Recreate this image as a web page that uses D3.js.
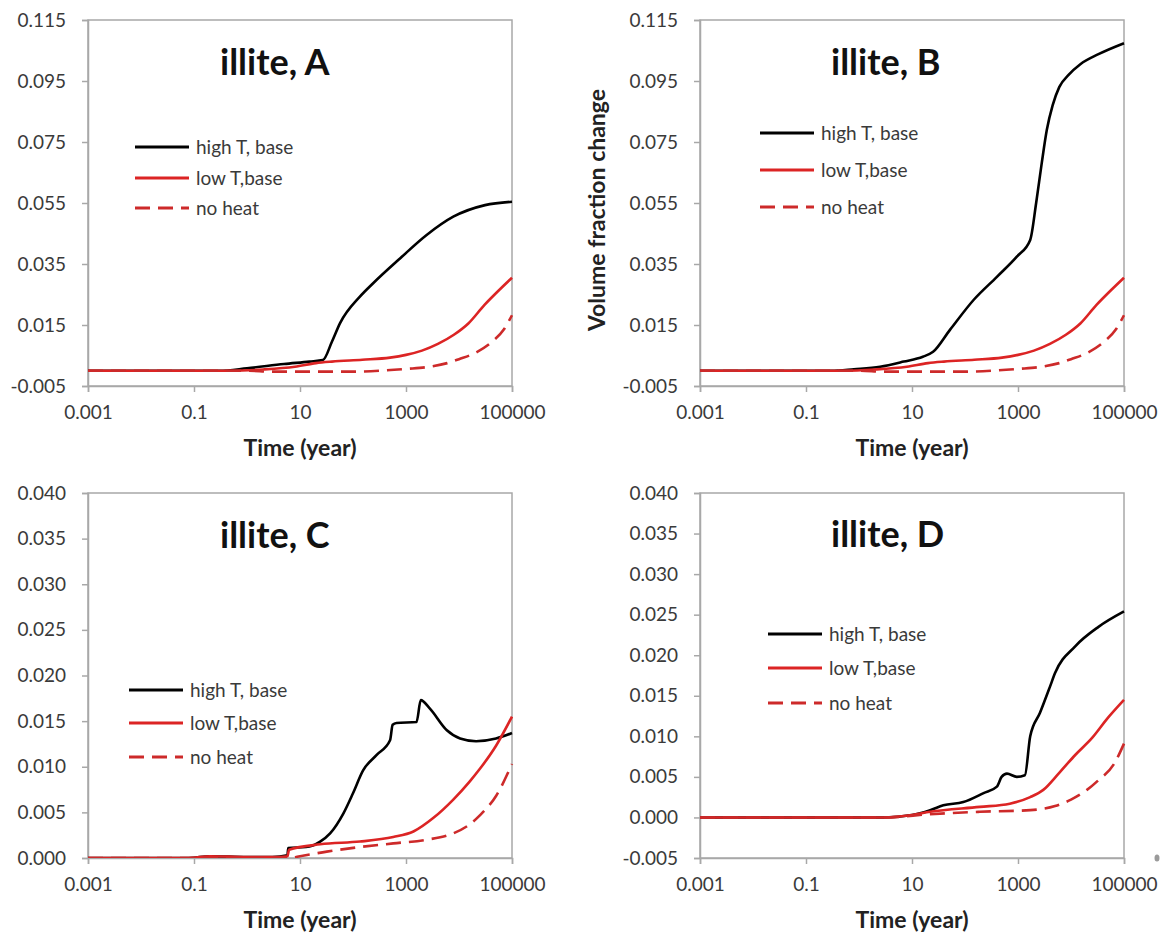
<!DOCTYPE html>
<html>
<head>
<meta charset="utf-8">
<script src="https://cdn.jsdelivr.net/npm/d3@7"></script>
<style>
  body { margin: 0; background: #fff; }
  text { font-family: Lato, "Open Sans", sans-serif; }
</style>
</head>
<body>
<div id="chart"></div>
<script>
// tick values
var xTicks = [0.001, 0.1, 10, 1000, 100000];
var yTicksAB = [-0.005, 0.015, 0.035, 0.055, 0.075, 0.095, 0.115];
var yTicksC = [0, 0.005, 0.01, 0.015, 0.02, 0.025, 0.03, 0.035, 0.04];
var yTicksD = [-0.005, 0, 0.005, 0.01, 0.015, 0.02, 0.025, 0.03, 0.035, 0.04];
var seriesNames = ["high T, base", "low T,base", "no heat"];

// [time (year), volume fraction change]
var highT_A = [[0.001, 0], [0.3, 0], [1, 0.0008], [5, 0.0022], [15, 0.003], [27, 0.0035], [40, 0.0095],
  [57, 0.0156], [135, 0.0243], [240, 0.0287], [780, 0.0369], [2450, 0.0445], [7800, 0.0505],
  [31000, 0.0543], [100000, 0.0554]];
var highT_B = [[0.001, 0], [0.3, 0], [0.8, 0.0005], [2.5, 0.0013], [7, 0.003], [16, 0.0046], [25, 0.0062],
  [52, 0.0134], [145, 0.0232], [400, 0.0308], [950, 0.0374], [1700, 0.0429], [2200, 0.055], [2800, 0.068],
  [3500, 0.079], [4500, 0.087], [6000, 0.093], [9000, 0.097], [15000, 0.1005], [33000, 0.1038],
  [100000, 0.1074]];
var lowT_AB = [[0.001, 0], [0.5, 0], [2, 0.0004], [8, 0.0013], [20, 0.0025], [40, 0.003], [150, 0.0036],
  [500, 0.0043], [1000, 0.0052], [2000, 0.0066], [4000, 0.0088], [8000, 0.0118], [15000, 0.0155],
  [30000, 0.0215], [60000, 0.0268], [100000, 0.0305]];
var noHeat_AB = [[0.001, 0], [1, 0], [3, -0.0003], [100, -0.0003], [400, 0.0001], [1000, 0.0006],
  [3000, 0.0014], [6000, 0.0025], [10000, 0.0038], [20000, 0.0058], [40000, 0.0092], [70000, 0.0135],
  [100000, 0.0182]];

var highT_C = [[0.001, 0], [0.08, 0], [0.2, 0.0002], [1, 0.0001], [3, 0.0001], [5.8, 0.0003], [6, 0.0011],
  [13, 0.0012], [24, 0.0018], [37, 0.0027], [66, 0.0049], [100, 0.0071], [155, 0.0096], [280, 0.0113],
  [500, 0.0129], [560, 0.0146], [660, 0.0148], [1580, 0.0149], [1900, 0.0173], [2800, 0.0164],
  [5900, 0.014], [10500, 0.0131], [21000, 0.0128], [50000, 0.0131], [100000, 0.0137]];
var lowT_C = [[0.001, 0], [0.08, 0], [0.2, 0.0002], [1, 0.0001], [3, 0.0001], [5.8, 0.0002], [6.2, 0.0009],
  [24, 0.0015], [135, 0.0018], [575, 0.0023], [1380, 0.0029], [3300, 0.0044], [7800, 0.0064],
  [16000, 0.0084], [25000, 0.0098], [50000, 0.0123], [100000, 0.0155]];
var noHeat_C = [[0.001, 0], [6, 0], [10, 0.0002], [32, 0.0007], [135, 0.0012], [575, 0.0016], [2450, 0.002],
  [7800, 0.0027], [16000, 0.0037], [25000, 0.0047], [50000, 0.0068], [100000, 0.0103]];

var highT_D = [[0.001, 0], [3, 0], [10, 0.0003], [22, 0.0009], [39, 0.0015], [93, 0.0019], [224, 0.003],
  [400, 0.0038], [490, 0.005], [620, 0.0054], [950, 0.005], [1350, 0.0052], [1700, 0.01], [2600, 0.0129],
  [4000, 0.0161], [5000, 0.0178], [12000, 0.0211], [33000, 0.0235], [100000, 0.0254]];
var lowT_D = [[0.001, 0], [3, 0], [10, 0.0003], [22, 0.0007], [190, 0.0013], [700, 0.0017], [1700, 0.0025],
  [3000, 0.0034], [6000, 0.0055], [12000, 0.0077], [25000, 0.0098], [50000, 0.0123], [100000, 0.0145]];
var noHeat_D = [[0.001, 0], [3, 0], [22, 0.0004], [190, 0.0007], [1700, 0.0009], [5000, 0.0014],
  [10000, 0.0022], [20000, 0.0034], [33000, 0.0046], [65000, 0.0066], [100000, 0.0091]];

var width = 1160, height = 937;
var black = "#000", red = "#dc2424", redDash = "#cd2a2a";

var panels = [
  { title: "illite, A", x0: 88, x1: 512, y0: 20, y1: 386, yDomain: [-0.005, 0.115], yTicks: yTicksAB,
    data: [highT_A, lowT_AB, noHeat_AB], tx: 220, ty: 75, lx: 135, ly: [147, 178, 208] },
  { title: "illite, B", x0: 700, x1: 1124, y0: 20, y1: 386, yDomain: [-0.005, 0.115], yTicks: yTicksAB,
    data: [highT_B, lowT_AB, noHeat_AB], tx: 831, ty: 75, lx: 760, ly: [133, 170, 207], yTitle: true },
  { title: "illite, C", x0: 88, x1: 512, y0: 493, y1: 858, yDomain: [0, 0.04], yTicks: yTicksC,
    data: [highT_C, lowT_C, noHeat_C], tx: 220, ty: 548, lx: 129, ly: [690, 723, 757] },
  { title: "illite, D", x0: 700, x1: 1124, y0: 493, y1: 858, yDomain: [-0.005, 0.04], yTicks: yTicksD,
    data: [highT_D, lowT_D, noHeat_D], tx: 831, ty: 547, lx: 768, ly: [634, 668, 703] }
];

var styles = [
  { color: black, dash: null },
  { color: red, dash: null },
  { color: redDash, dash: "15,8" }
];

var svg = d3.select("#chart").append("svg")
    .attr("width", width)
    .attr("height", height);

svg.append("rect").attr("width", width).attr("height", height).attr("fill", "#fff");

panels.forEach(function(p, pi) {
    var x = d3.scaleLog().domain([0.001, 100000]).range([p.x0, p.x1]);
    var y = d3.scaleLinear().domain(p.yDomain).range([p.y1, p.y0]);
    var g = svg.append("g");

    // plot border
    g.append("rect")
        .attr("x", p.x0).attr("y", p.y0)
        .attr("width", p.x1 - p.x0).attr("height", p.y1 - p.y0)
        .attr("fill", "none").attr("stroke", "#a8a8a8").attr("stroke-width", 1.5);

    var yAxis = g.append("g")
        .attr("transform", "translate(" + p.x0 + ",0)")
        .call(d3.axisLeft(y).tickValues(p.yTicks).tickFormat(d3.format(".3f")).tickSize(6).tickPadding(16));
    var xAxis = g.append("g")
        .attr("transform", "translate(0," + p.y1 + ")")
        .call(d3.axisBottom(x).tickValues(xTicks).tickFormat(function(d) { return String(d); }).tickSize(6).tickPadding(14));
    [xAxis, yAxis].forEach(function(a) {
        a.select(".domain").attr("stroke", "#a8a8a8").attr("stroke-width", 1.5);
        a.selectAll(".tick line").attr("stroke", "#a8a8a8").attr("stroke-width", 1.5);
        a.selectAll(".tick text").attr("fill", "#3a3a3a").style("font-size", "19px");
    });
    yAxis.selectAll(".tick text").text(function(d) { return d3.format(".3f")(d).replace("−", "-"); });

    var clipId = "clip" + pi;
    g.append("clipPath").attr("id", clipId).append("rect")
        .attr("x", p.x0).attr("y", p.y0 - 2)
        .attr("width", p.x1 - p.x0 + 2).attr("height", p.y1 - p.y0 + 2);

    var line = d3.line()
        .x(function(d) { return x(d[0]); })
        .y(function(d) { return y(d[1]); })
        .curve(d3.curveMonotoneX);

    p.data.forEach(function(s, i) {
        g.append("path")
            .datum(s)
            .attr("clip-path", "url(#" + clipId + ")")
            .attr("d", line)
            .attr("fill", "none")
            .attr("stroke", styles[i].color)
            .attr("stroke-width", 2.6)
            .attr("stroke-dasharray", styles[i].dash);
    });

    // title
    g.append("text")
        .attr("x", p.tx).attr("y", p.ty)
        .style("font-size", "36px").style("font-weight", "bold")
        .attr("fill", "#111")
        .text(p.title);

    // legend
    seriesNames.forEach(function(name, i) {
        var ly = p.ly[i];
        g.append("line")
            .attr("x1", p.lx).attr("x2", p.lx + 54)
            .attr("y1", ly).attr("y2", ly)
            .attr("stroke", styles[i].color)
            .attr("stroke-width", 3)
            .attr("stroke-dasharray", styles[i].dash);
        g.append("text")
            .attr("x", p.lx + 61).attr("y", ly)
            .attr("dy", "0.35em")
            .style("font-size", "19px")
            .attr("fill", "#3a3a3a")
            .text(name);
    });

    // x axis title
    g.append("text")
        .attr("x", (p.x0 + p.x1) / 2).attr("y", p.y1 + 70)
        .attr("text-anchor", "middle")
        .style("font-size", "23px").style("font-weight", "bold")
        .attr("fill", "#222")
        .text("Time (year)");

    if (p.yTitle) {
        g.append("text")
            .attr("transform", "translate(" + (p.x0 - 95) + "," + ((p.y0 + p.y1) / 2 + 7) + ") rotate(-90)")
            .attr("text-anchor", "middle")
            .style("font-size", "23px").style("font-weight", "bold")
            .attr("fill", "#222")
            .text("Volume fraction change");
    }
});

// small grey fragment at the right edge of the source image
svg.append("ellipse")
    .attr("cx", 1157).attr("cy", 858)
    .attr("rx", 2.5).attr("ry", 3.5)
    .attr("fill", "#9a9a9a");
</script>
</body>
</html>
